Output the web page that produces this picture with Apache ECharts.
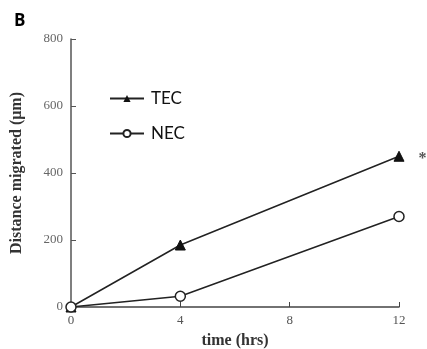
<!DOCTYPE html>
<html>
<head>
<meta charset="utf-8">
<script src="https://cdn.jsdelivr.net/npm/echarts@6/dist/echarts.min.js"></script>
<style>
    html, body { margin: 0; padding: 0; background: #fff; }
    #chart { width: 427px; height: 349px; }
</style>
</head>
<body>
<div id="chart"></div>
<script>
// data
var hours = [0, 4, 12]
var tec = [0, 185, 450]
var nec = [0, 32, 270]
var yTicks = [0, 200, 400, 600, 800]
var xTicks = [0, 4, 8, 12]

var serif = '"Liberation Serif", "DejaVu Serif", serif'
var ink = '#222'

var chart = echarts.init(document.getElementById('chart'))

function pairs(ys) {
    return hours.map(function (h, i) { return [h, ys[i]] })
}

var tecData = pairs(tec)
// asterisk next to the last TEC point
tecData[tecData.length - 1] = {
    value: tecData[tecData.length - 1],
    label: {
        show: true, position: 'right', distance: 14, formatter: '*',
        fontFamily: serif, fontSize: 16, color: '#555', fontWeight: 'bold', offset: [0, 3]
    }
}

var option = {
    animation: false,
    backgroundColor: '#fff',
    title: {
        text: 'B', left: 9, top: 8,
        textStyle: { fontFamily: '"Open Sans", "Liberation Sans", sans-serif', fontWeight: 'bold', fontSize: 17, color: '#000' }
    },
    legend: {
        orient: 'vertical', left: 104, top: 85,
        itemWidth: 34, itemHeight: 9, itemGap: 18,
        textStyle: { fontFamily: 'Lato, "Open Sans", sans-serif', fontSize: 17, color: '#111', padding: [0, 0, 0, 2] },
        data: ['TEC', 'NEC']
    },
    grid: { left: 71, right: 28, top: 39, bottom: 42, outerBoundsMode: 'none', containLabel: false },
    xAxis: {
        type: 'value', min: 0, max: 12, interval: 4,
        name: 'time (hrs)', nameLocation: 'middle', nameGap: 26,
        nameTextStyle: { fontFamily: serif, fontWeight: 'bold', fontSize: 16, color: '#333' },
        axisLine: { lineStyle: { color: '#444', width: 1.5 } },
        axisTick: { inside: true, length: 5, lineStyle: { color: '#444' } },
        axisLabel: { fontFamily: serif, fontSize: 13, color: '#555', margin: 7,
            formatter: function (v) { return xTicks.indexOf(v) >= 0 ? String(v) : '' } },
        splitLine: { show: false }
    },
    yAxis: {
        type: 'value', min: 0, max: 800, interval: 200,
        name: 'Distance migrated (\u03bcm)', nameLocation: 'middle', nameGap: 46,
        nameTextStyle: { fontFamily: serif, fontWeight: 'bold', fontSize: 16, color: '#333' },
        axisLine: { show: true, lineStyle: { color: '#555', width: 1.5 } },
        axisTick: { show: true, inside: true, length: 5, lineStyle: { color: '#555' } },
        axisLabel: { fontFamily: serif, fontSize: 13, color: '#666', margin: 8,
            formatter: function (v) { return yTicks.indexOf(v) >= 0 ? String(v) : '' } },
        splitLine: { show: false }
    },
    series: [
        {
            name: 'TEC', type: 'line', data: tecData,
            symbol: 'triangle', symbolSize: 10,
            lineStyle: { color: ink, width: 1.5 },
            itemStyle: { color: '#111', borderColor: '#111' }
        },
        {
            name: 'NEC', type: 'line', data: pairs(nec),
            symbol: 'circle', symbolSize: 10,
            lineStyle: { color: ink, width: 1.5 },
            itemStyle: { color: '#fff', borderColor: '#222', borderWidth: 1.5 }
        }
    ]
}

chart.setOption(option)
</script>
</body>
</html>
